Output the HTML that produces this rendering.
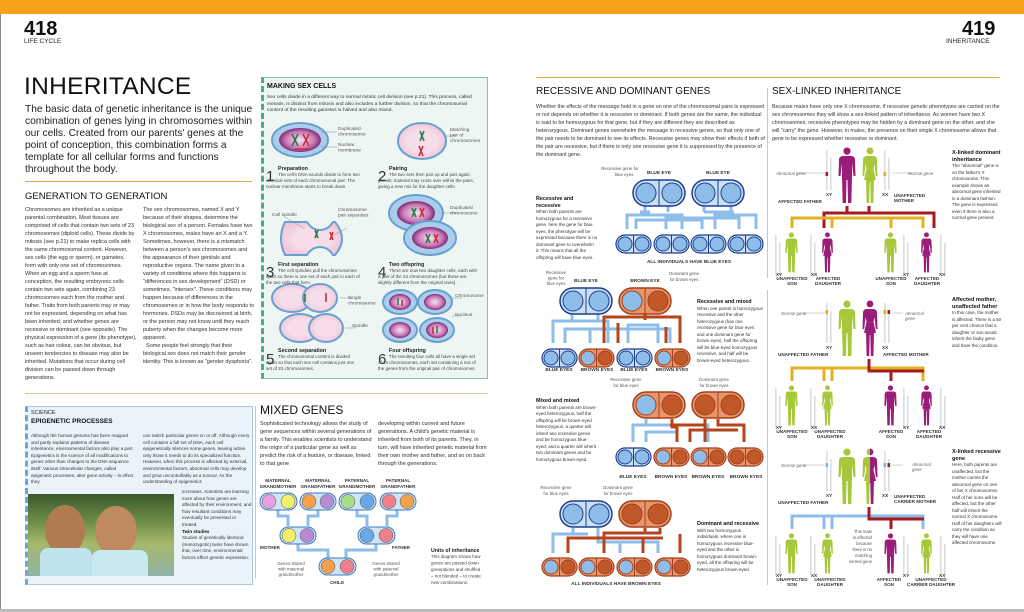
<!DOCTYPE html>
<html><head><meta charset="utf-8">
<style>
*{margin:0;padding:0;box-sizing:border-box}
body{width:1024px;height:612px;overflow:hidden;background:#fff;font-family:"Liberation Sans",sans-serif;color:#222;position:relative}
.a{position:absolute}
.t6{font-size:5.6px;line-height:8px;color:#333;letter-spacing:-0.05px}
.t5{font-size:4.9px;line-height:6.5px;color:#333}
.h{font-weight:bold;color:#111}
svg{position:absolute;left:0;top:0}
</style></head><body>
<div class="a" style="left:0;top:0;width:1024px;height:14px;background:#f6a31a"></div>
<div class="a" style="left:0;top:14px;width:1px;height:598px;background:#888"></div>
<div class="a" style="left:0;top:609px;width:1024px;height:3px;background:#bbb"></div>

<div class="a h" style="left:24px;top:19px;font-size:20px;line-height:20px">418</div>
<div class="a" style="left:24px;top:38px;font-size:6.5px">LIFE CYCLE</div>
<div class="a h" style="left:962px;top:19px;font-size:20px;line-height:20px">419</div>
<div class="a" style="left:946px;top:38px;font-size:6.5px">INHERITANCE</div>

<div class="a" style="left:24px;top:74px;font-size:24.5px;line-height:26px;letter-spacing:0.3px;color:#111">INHERITANCE</div>
<div class="a" style="left:25px;top:104px;width:240px;font-size:10.2px;line-height:12.1px;color:#222">The basic data of genetic inheritance is the unique combination of genes lying in chromosomes within our cells. Created from our parents' genes at the point of conception, this combination forms a template for all cellular forms and functions throughout the body.</div>
<div class="a" style="left:25px;top:181px;width:227px;height:1px;background:#d9a94a"></div>
<div class="a" style="left:25px;top:191px;font-size:9.5px;color:#111">GENERATION TO GENERATION</div>
<div class="a t6" style="left:25px;top:206px;width:112px">Chromosomes are inherited as a unique parental combination. Most tissues are comprised of cells that contain two sets of 23 chromosomes (diploid cells). These divide by mitosis (see p.21) to make replica cells with the same chromosomal content. However, sex cells (the egg or sperm), or gametes, form with only one set of chromosomes. When an egg and a sperm fuse at conception, the resulting embryonic cells contain two sets again, combining 23 chromosomes each from the mother and father. Traits from both parents may or may not be expressed, depending on what has been inherited, and whether genes are recessive or dominant (see opposite). The physical expression of a gene (its phenotype), such as hair colour, can be obvious, but unseen tendencies to disease may also be inherited. Mutations that occur during cell division can be passed down through generations.</div>
<div class="a t6" style="left:143px;top:206px;width:112px">The sex chromosomes, named X and Y because of their shapes, determine the biological sex of a person. Females have two X chromosomes, males have an X and a Y. Sometimes, however, there is a mismatch between a person's sex chromosomes and the appearance of their genitals and reproductive organs. The name given to a variety of conditions where this happens is "differences in sex development" (DSD) or sometimes, "intersex". These conditions may happen because of differences in the chromosomes or in how the body responds to hormones. DSDs may be discovered at birth, or the person may not know until they reach puberty when the changes become more apparent.<br>&nbsp;&nbsp;Some people feel strongly that their biological sex does not match their gender identity. This is known as "gender dysphoria".</div>

<div class="a" style="left:261px;top:77px;width:227px;height:302px;background:#eef6f4;border:1px solid #7cc3b2;border-left:3px dashed #3fae95"></div>
<div class="a h" style="left:267px;top:83px;font-size:7px">MAKING SEX CELLS</div>
<div class="a t5" style="left:267px;top:95px;width:215px">Sex cells divide in a different way to normal mitotic cell division (see p.21). This process, called meiosis, is distinct from mitosis and also includes a further division, so that the chromosomal content of the resulting gametes is halved and also mixed.</div>
<svg width="1024" height="612">
<defs>
<radialGradient id="nuc"><stop offset="0" stop-color="#f6e6f2"/><stop offset="0.7" stop-color="#c976b4"/><stop offset="1" stop-color="#7a2a78"/></radialGradient>
<radialGradient id="cyt"><stop offset="0.6" stop-color="#f6dde9"/><stop offset="1" stop-color="#f0c8dc"/></radialGradient>
</defs>
<g stroke="#6aa0cf" stroke-width="2">
<ellipse cx="300" cy="140" rx="28" ry="17" fill="#a9cdea"/>
<ellipse cx="300" cy="140" rx="21" ry="12" fill="url(#nuc)" stroke="none"/>
<ellipse cx="422" cy="141" rx="24" ry="18" fill="url(#cyt)"/>
<path d="M285,222 q-8,16 0,33 h22 q5,-8 13,-8 q8,0 13,8 h2 q14,-16 0,-33 h-2 q-5,8 -13,8 q-8,0 -13,-8z" fill="url(#cyt)"/>
<ellipse cx="416" cy="213" rx="27" ry="18" fill="#a9cdea"/><ellipse cx="416" cy="213" rx="19" ry="12" fill="url(#nuc)" stroke="none"/>
<ellipse cx="430" cy="238" rx="26" ry="17" fill="#a9cdea"/><ellipse cx="430" cy="238" rx="18" ry="11" fill="url(#nuc)" stroke="none"/>
<ellipse cx="292" cy="298" rx="20" ry="14" fill="url(#cyt)"/><ellipse cx="320" cy="298" rx="17" ry="14" fill="url(#cyt)"/>
<ellipse cx="300" cy="328" rx="20" ry="14" fill="url(#cyt)"/><ellipse cx="326" cy="328" rx="17" ry="14" fill="url(#cyt)"/>
<ellipse cx="400" cy="302" rx="17" ry="12" fill="#a9cdea"/><ellipse cx="400" cy="302" rx="11" ry="8" fill="url(#nuc)" stroke="none"/>
<ellipse cx="435" cy="302" rx="17" ry="12" fill="#a9cdea"/><ellipse cx="435" cy="302" rx="11" ry="8" fill="url(#nuc)" stroke="none"/>
<ellipse cx="400" cy="330" rx="17" ry="12" fill="#a9cdea"/><ellipse cx="400" cy="330" rx="11" ry="8" fill="url(#nuc)" stroke="none"/>
<ellipse cx="437" cy="330" rx="17" ry="12" fill="#a9cdea"/><ellipse cx="437" cy="330" rx="11" ry="8" fill="url(#nuc)" stroke="none"/>
</g>
<g stroke-width="1.6" fill="none">
<path d="M292,134 l6,12 M298,134 l-6,12 M420,131 l4,10 M424,131 l-4,10 M315,230 l3,8 M318,230 l-3,8 M412,208 l4,9 M416,208 l-4,9 M426,234 l4,9 M430,234 l-4,9 M305,294 v8 M398,298 v7 M437,326 v7" stroke="#2a7a4a"/>
<path d="M303,134 l6,12 M309,134 l-6,12 M419,146 l4,10 M423,146 l-4,10 M330,232 l3,8 M333,232 l-3,8 M420,208 l4,9 M424,208 l-4,9 M434,234 l4,9 M438,234 l-4,9 M326,293 v9 M402,300 v6 M433,327 v7 M295,149 h14" stroke="#c8303a"/>
</g>
<g stroke="#777" stroke-width="0.4"><path d="M321,132 h16 M321,147 h16 M444,136 h12 M347,228 l-15,8 M285,217 l20,12 M443,213 h14 M340,298 h12 M345,328 h10 M452,298 h10 M452,316 h8"/></g>
<g font-family="Liberation Sans" font-size="4.8" fill="#555">
<text x="338" y="130">Duplicated</text><text x="338" y="135.5">chromosome</text>
<text x="338" y="146">Nuclear</text><text x="338" y="151.5">membrane</text>
<text x="450" y="131">Matching</text><text x="450" y="136.5">pair of</text><text x="450" y="142">chromosomes</text>
<text x="272" y="216">Cell spindle</text><text x="338" y="211">Chromosome</text><text x="338" y="216.5">pair separates</text>
<text x="450" y="209">Duplicated</text><text x="450" y="214.5">chromosome</text>
<text x="348" y="299">Single</text><text x="348" y="304.5">chromosome</text><text x="352" y="327">Spindle</text>
<text x="455" y="297">Chromosome</text><text x="455" y="316">Nucleus</text>
</g>
<g font-family="Liberation Sans" fill="#333" font-size="15">
<text x="266" y="181">1</text><text x="378" y="181">2</text><text x="266" y="277">3</text><text x="378" y="277">4</text><text x="266" y="364">5</text><text x="378" y="364">6</text>
</g>
<g font-family="Liberation Sans" font-size="5.4" fill="#222" font-weight="bold">
<text x="278" y="170">Preparation</text><text x="389" y="170">Pairing</text><text x="278" y="266">First separation</text><text x="389" y="266">Two offspring</text><text x="278" y="352">Second separation</text><text x="389" y="352">Four offspring</text>
</g>
<g font-family="Liberation Sans" font-size="4.5" fill="#444">
<text x="278" y="176">The cell's DNA sounds divide to form two</text><text x="266" y="182">identical sets of each chromosomal pair. The</text><text x="266" y="188">nuclear membrane starts to break down.</text>
<text x="389" y="176">The two sets then pair up and part again;</text><text x="378" y="182">genetic material may cross over within the pairs,</text><text x="378" y="188">giving a new mix for the daughter cells.</text>
<text x="278" y="272">The cell spindles pull the chromosomes</text><text x="266" y="278">apart so there is one set of each pair in each of</text><text x="266" y="284">the two cells that form.</text>
<text x="389" y="272">There are now two daughter cells, each with</text><text x="378" y="278">a pair of the 23 chromosomes (but these are</text><text x="378" y="284">slightly different from the original ones).</text>
<text x="278" y="358">The chromosomal content is divided</text><text x="266" y="364">again so that each sex cell contains just one</text><text x="266" y="370">set of 23 chromosomes.</text>
<text x="389" y="358">The resulting four cells all have a single set</text><text x="378" y="364">of 23 chromosomes, each set containing a mix of</text><text x="378" y="370">the genes from the original pair of chromosomes.</text>
</g>
</svg>

<div class="a" style="left:25px;top:393px;width:463px;height:1px;background:#d8c98a"></div>
<div class="a" style="left:25px;top:406px;width:228px;height:179px;background:#eaf3fa;border:1px solid #a9c9e3;border-left:3px dashed #6aa6d6"></div>
<div class="a" style="left:31px;top:410px;font-size:5.5px">SCIENCE</div>
<div class="a h" style="left:31px;top:418px;font-size:6.5px">EPIGENETIC PROCESSES</div>
<div class="a" style="left:31px;top:433px;width:103px;font-size:4.6px;line-height:6.6px;color:#333">Although the human genome has been mapped and partly explains patterns of disease inheritance, environmental factors also play a part. Epigenetics is the science of all modifications to genes other than changes to the DNA sequence itself. Various intracellular changes, called epigenetic processes, alter gene activity – in effect they</div>
<div class="a" style="left:143px;top:433px;width:108px;font-size:4.6px;line-height:6.6px;color:#333">can switch particular genes on or off. Although every cell contains a full set of DNA, each cell epigenetically silences some genes, leaving active only those it needs to do its specialized function. However, when this process is affected by external, environmental factors, abnormal cells may develop and grow uncontrollably as a tumour. As the understanding of epigenetics</div>
<div class="a" style="left:182px;top:489px;width:70px;font-size:4.6px;line-height:6.6px;color:#333">increases, scientists are learning more about how genes are affected by their environment, and how resultant conditions may eventually be prevented or treated.<br><b style="color:#111">Twin studies</b><br>Studies of genetically identical (monozygotic) twins have shown that, over time, environmental factors affect genetic expression.</div>
<div class="a" style="left:28px;top:494px;width:146px;height:82px;background:linear-gradient(180deg,#3c5a2a 0%,#6f8f48 35%,#a6b86a 60%,#8fb3a8 100%)"></div>
<div class="a" style="left:45px;top:505px;width:40px;height:50px;border-radius:50%;background:#b07a52"></div>
<div class="a" style="left:95px;top:506px;width:42px;height:50px;border-radius:50%;background:#c08a60"></div>
<div class="a" style="left:40px;top:548px;width:52px;height:28px;background:#bfe3ea;border-radius:8px 8px 0 0"></div>
<div class="a" style="left:92px;top:550px;width:56px;height:26px;background:#c9e8ef;border-radius:8px 8px 0 0"></div>

<div class="a" style="left:255px;top:406px;width:1px;height:172px;background:#d8c98a"></div>
<div class="a" style="left:260px;top:403px;font-size:12px;color:#111">MIXED GENES</div>
<div class="a t6" style="left:260px;top:420px;width:112px">Sophisticated technology allows the study of gene sequences within several generations of a family. This enables scientists to understand the origin of a particular gene as well as predict the risk of a feature, or disease, linked to that gene</div>
<div class="a t6" style="left:378px;top:420px;width:112px">developing within current and future generations. A child's genetic material is inherited from both of its parents. They, in turn, will have inherited genetic material from their own mother and father, and so on back through the generations.</div>
<svg width="1024" height="612">
<g fill="none" stroke="#8dbde8" stroke-width="3">
<path d="M278,510 v6 h10 v10 M318,510 v6 h-10 v10 M357,510 v6 h10 v10 M397,510 v6 h-10 v10 M298,544 v6 h30 v8 M376,544 v6 h-30 v8"/>
</g>
<g stroke="#3a78c0" stroke-width="1" fill="#cfe4f5">
<rect x="260" y="493" width="37" height="17" rx="8.5"/><rect x="300" y="493" width="36" height="17" rx="8.5"/><rect x="339" y="493" width="37" height="17" rx="8.5"/><rect x="380" y="493" width="36" height="17" rx="8.5"/>
<rect x="280" y="527" width="36" height="17" rx="8.5"/><rect x="358" y="527" width="37" height="17" rx="8.5"/><rect x="319" y="558" width="37" height="17" rx="8.5"/>
</g>
<g stroke="#555" stroke-width="0.5">
<circle cx="269" cy="501.5" r="7" fill="#e9a0e3"/><circle cx="288" cy="501.5" r="7" fill="#f3ef6a"/>
<circle cx="309" cy="501.5" r="7" fill="#f5a04a"/><circle cx="327" cy="501.5" r="7" fill="#b58ad6"/>
<circle cx="348" cy="501.5" r="7" fill="#a8dd8a"/><circle cx="367" cy="501.5" r="7" fill="#6aa7e6"/>
<circle cx="389" cy="501.5" r="7" fill="#ef7f8a"/><circle cx="407" cy="501.5" r="7" fill="#f5a04a"/>
<circle cx="289" cy="535.5" r="7" fill="#f3ef6a"/><circle cx="307" cy="535.5" r="7" fill="#b58ad6"/>
<circle cx="367" cy="535.5" r="7" fill="#6aa7e6"/><circle cx="386" cy="535.5" r="7" fill="#ef7f8a"/>
<circle cx="328" cy="566.5" r="7" fill="#f5a04a"/><circle cx="347" cy="566.5" r="7" fill="#ef7f8a"/>
</g>
<g font-family="Liberation Sans" font-size="4.6" font-weight="bold" fill="#333" text-anchor="middle">
<text x="278" y="482">MATERNAL</text><text x="278" y="488">GRANDMOTHER</text><text x="318" y="482">MATERNAL</text><text x="318" y="488">GRANDFATHER</text>
<text x="357" y="482">PATERNAL</text><text x="357" y="488">GRANDMOTHER</text><text x="398" y="482">PATERNAL</text><text x="398" y="488">GRANDFATHER</text>
<text x="270" y="549">MOTHER</text><text x="401" y="549">FATHER</text><text x="337" y="584">CHILD</text>
</g>
<g font-family="Liberation Sans" font-size="4.4" fill="#555" text-anchor="middle">
<text x="291" y="565">Genes shared</text><text x="291" y="570.5">with maternal</text><text x="291" y="576">grandmother</text>
<text x="386" y="565">Genes shared</text><text x="386" y="570.5">with paternal</text><text x="386" y="576">grandmother</text>
</g>
<g font-family="Liberation Sans" font-size="4.5" fill="#444">
<text x="431" y="552" font-weight="bold" font-size="5.2" fill="#222">Units of inheritance</text>
<text x="431" y="558">This diagram shows how</text><text x="431" y="564.5">genes are passed down</text><text x="431" y="571">generations and shuffled</text><text x="431" y="577.5">– not blended – to create</text><text x="431" y="584">new combinations.</text>
</g>
</svg>

<div class="a" style="left:536px;top:77px;width:464px;height:1px;background:#d9a94a"></div>
<div class="a" style="left:767px;top:88px;width:1px;height:190px;background:#d8c98a"></div>
<div class="a" style="left:767px;top:290px;width:1px;height:295px;background:#d8c98a"></div>
<div class="a" style="left:536px;top:86px;font-size:10px;color:#111">RECESSIVE AND DOMINANT GENES</div>
<div class="a" style="left:772px;top:86px;font-size:10px;color:#111">SEX-LINKED INHERITANCE</div>
<div class="a" style="left:536px;top:103px;width:230px;font-size:5.3px;line-height:8px;color:#333">Whether the effects of the message held in a gene on one of the chromosomal pairs is expressed or not depends on whether it is recessive or dominant. If both genes are the same, the individual is said to be homozygous for that gene, but if they are different they are described as heterozygous. Dominant genes overwhelm the message in recessive genes, so that only one of the pair needs to be dominant to see its effects. Recessive genes may show their effects if both of the pair are recessive, but if there is only one recessive gene it is suppressed by the presence of the dominant gene.</div>
<div class="a" style="left:772px;top:103px;width:230px;font-size:5.3px;line-height:8px;color:#333">Because males have only one X chromosome, if recessive genetic phenotypes are carried on the sex chromosomes they will show a sex-linked pattern of inheritance. As women have two X chromosomes, recessive phenotypes may be hidden by a dominant gene on the other, and she will "carry" the gene. However, in males, the presence on their single X chromosome allows that gene to be expressed whether recessive or dominant.</div>

<div class="a t5" style="left:536px;top:196px;width:62px;font-size:4.5px"><b style="color:#111;font-size:5.4px">Recessive and recessive</b><br>When both parents are homozygous for a recessive gene, here the gene for blue eyes, the phenotype will be expressed because there is no dominant gene to overwhelm it. This means that all the offspring will have blue eyes.</div>
<div class="a t5" style="left:697px;top:299px;width:66px;font-size:4.5px"><b style="color:#111;font-size:5.4px">Recessive and mixed</b><br>When one parent is homozygous recessive and the other heterozygous (has one recessive gene for blue eyes and one dominant gene for brown eyes), half the offspring will be blue-eyed homozygous recessive, and half will be brown-eyed heterozygous.</div>
<div class="a t5" style="left:536px;top:398px;width:62px;font-size:4.5px"><b style="color:#111;font-size:5.4px">Mixed and mixed</b><br>When both parents are brown-eyed heterozygous, half the offspring will be brown-eyed heterozygous; a quarter will inherit two recessive genes and be homozygous blue-eyed; and a quarter will inherit two dominant genes and be homozygous brown-eyed.</div>
<div class="a t5" style="left:697px;top:521px;width:66px;font-size:4.5px"><b style="color:#111;font-size:5.4px">Dominant and recessive</b><br>With two homozygous individuals, where one is homozygous recessive blue-eyed and the other is homozygous dominant brown-eyed, all the offspring will be heterozygous brown-eyed.</div>

<svg width="1024" height="612">
<defs>
<g id="pB"><rect x="0" y="0" width="52" height="26" rx="13" fill="#c9e0f5" stroke="#1f3f8f" stroke-width="1.5"/><line x1="26" y1="0" x2="26" y2="26" stroke="#1f3f8f"/><circle cx="13" cy="13" r="10" fill="#8dbde8" stroke="#1f3f8f"/><circle cx="39" cy="13" r="10" fill="#8dbde8" stroke="#1f3f8f"/></g>
<g id="pM"><rect x="0" y="0" width="52" height="26" rx="13" fill="#e8956a" stroke="#a5401c" stroke-width="1.5"/><line x1="26" y1="0" x2="26" y2="26" stroke="#a5401c"/><circle cx="13" cy="13" r="10" fill="#8dbde8" stroke="#a5401c"/><circle cx="39" cy="13" r="10" fill="#c0582a" stroke="#a5401c"/></g>
<g id="pO"><rect x="0" y="0" width="52" height="26" rx="13" fill="#e8956a" stroke="#a5401c" stroke-width="1.5"/><line x1="26" y1="0" x2="26" y2="26" stroke="#a5401c"/><circle cx="13" cy="13" r="10" fill="#c0582a" stroke="#a5401c"/><circle cx="39" cy="13" r="10" fill="#c0582a" stroke="#a5401c"/></g>
<g id="cB"><rect x="0" y="0" width="35" height="18" rx="9" fill="#c9e0f5" stroke="#1f3f8f" stroke-width="1.2"/><line x1="17.5" y1="0" x2="17.5" y2="18" stroke="#1f3f8f"/><circle cx="9" cy="9" r="7" fill="#8dbde8" stroke="#1f3f8f"/><circle cx="26" cy="9" r="7" fill="#8dbde8" stroke="#1f3f8f"/></g>
<g id="cM"><rect x="0" y="0" width="35" height="18" rx="9" fill="#e8956a" stroke="#a5401c" stroke-width="1.2"/><line x1="17.5" y1="0" x2="17.5" y2="18" stroke="#a5401c"/><circle cx="9" cy="9" r="7" fill="#8dbde8" stroke="#a5401c"/><circle cx="26" cy="9" r="7" fill="#c0582a" stroke="#a5401c"/></g>
<g id="cO"><rect x="0" y="0" width="35" height="18" rx="9" fill="#e8956a" stroke="#a5401c" stroke-width="1.2"/><line x1="17.5" y1="0" x2="17.5" y2="18" stroke="#a5401c"/><circle cx="9" cy="9" r="7" fill="#c0582a" stroke="#a5401c"/><circle cx="26" cy="9" r="7" fill="#c0582a" stroke="#a5401c"/></g>
</defs>
<g fill="none" stroke="#8dbde8" stroke-width="3">
<path d="M645,206 v6 M668,206 v6 M704,206 v6 M731,206 v6 M627,229 v-14 h55 v14 M636,229 v-9 h66 v9 M666,229 v-11 h73 v11 M715,229 v-14 h41 v14 M650,212 h-10 M704,212 h30"/>
</g>
<use href="#pB" x="633" y="180"/><use href="#pB" x="692" y="180"/>
<use href="#cB" x="616" y="235"/><use href="#cB" x="654" y="235"/><use href="#cB" x="691" y="235"/><use href="#cB" x="728" y="235"/>
<g fill="none" stroke-width="3">
<path d="M572,314 v6 M598,314 v6 M553,343 v-22 h55 v22 M565,343 v-14 h105 v14 M590,343 v-14 M628,343 v-18 h30 v18" stroke="#8dbde8"/>
<path d="M645,314 v6 M604,343 v-26 h76 v26 M618,343 v-20 M645,320 v-3 M666,343 v-16" stroke="#b5441c"/>
</g>
<use href="#pB" x="560" y="288"/><use href="#pM" x="619" y="288"/>
<use href="#cB" x="542" y="349"/><use href="#cM" x="579" y="349"/><use href="#cB" x="617" y="349"/><use href="#cM" x="655" y="349"/>
<g fill="none" stroke-width="3">
<path d="M646,419 v6 M633,442 v-17 h75 v17 M646,442 v-10 h32" stroke="#8dbde8"/>
<path d="M672,419 v8 h5 v15 M705,419 v6 h-35 M718,419 v6 h26 v17 M690,442 v-12 h48 M705,425 v17" stroke="#b5441c"/>
</g>
<use href="#pM" x="633" y="392"/><use href="#pO" x="692" y="392"/>
<use href="#cB" x="616" y="448"/><use href="#cM" x="654" y="448"/><use href="#cM" x="691" y="448"/><use href="#cO" x="728" y="448"/>
<g fill="none" stroke-width="3">
<path d="M573,528 v6 M598,528 v6 M553,553 v-19 h35 M598,534 v8 h60 v11 M620,553 v-12" stroke="#8dbde8"/>
<path d="M645,528 v6 M660,528 v6 M568,553 v-15 h95 M604,553 v-20 h57 M643,553 v-14 M680,553 v-19" stroke="#b5441c"/>
</g>
<use href="#pB" x="560" y="501"/><use href="#pO" x="619" y="501"/>
<use href="#cM" x="542" y="558"/><use href="#cM" x="579" y="558"/><use href="#cM" x="617" y="558"/><use href="#cM" x="655" y="558"/>
<g font-family="Liberation Sans" font-size="4.8" font-weight="bold" fill="#333" text-anchor="middle">
<text x="659" y="174">BLUE EYE</text><text x="718" y="174">BLUE EYE</text>
<text x="689" y="263">ALL INDIVIDUALS HAVE BLUE EYES</text>
<text x="586" y="282">BLUE EYE</text><text x="645" y="282">BROWN EYE</text>
<text x="559" y="371">BLUE EYES</text><text x="597" y="371">BROWN EYES</text><text x="634" y="371">BLUE EYES</text><text x="672" y="371">BROWN EYES</text>
<text x="633" y="478">BLUE EYES</text><text x="671" y="478">BROWN EYES</text><text x="708" y="478">BROWN EYES</text><text x="746" y="478">BROWN EYES</text>
<text x="616" y="585">ALL INDIVIDUALS HAVE BROWN EYES</text>
</g>
<g font-family="Liberation Sans" font-size="4.4" fill="#555" text-anchor="middle">
<text x="620" y="170">Recessive gene for</text><text x="624" y="176">blue eyes</text>
<text x="556" y="274">Recessive</text><text x="556" y="279.5">gene for</text><text x="556" y="285">blue eyes</text>
<text x="684" y="275">Dominant gene</text><text x="684" y="281">for brown eyes</text>
<text x="626" y="381">Recessive gene</text><text x="626" y="387">for blue eyes</text>
<text x="714" y="381">Dominant gene</text><text x="714" y="387">for brown eyes</text>
<text x="556" y="489">Recessive gene</text><text x="556" y="495">for blue eyes</text>
<text x="618" y="489">Dominant gene</text><text x="618" y="495">for brown eyes</text>
</g>

<defs>
<path id="man" d="M9,0.5 a3.6,3.6 0 1 1 -0.01,0 z M5,9 L13,9 Q17,9 17,13 L17.5,29 L15.5,29 L14,16 L14,30 L13.3,56 L10,56 L9.5,33 L8.5,33 L8,56 L4.7,56 L4,30 L4,16 L2.5,29 L0.5,29 L1,13 Q1,9 5,9Z"/>
<path id="wom" d="M9,0.5 a3.4,3.4 0 1 1 -0.01,0 z M6,9 L12,9 Q16,9 16,13 L16.5,29 L14.8,29 L13.5,17 L12.5,22 L15,33 L13,33 L12.4,56 L9.8,56 L9.3,35 L8.7,35 L8.2,56 L5.6,56 L5,33 L3,33 L5.5,22 L4.5,17 L3.2,29 L1.5,29 L2,13 Q2,9 6,9Z"/>
<clipPath id="lh"><rect x="0" y="0" width="9" height="60"/></clipPath>
<clipPath id="rh"><rect x="9" y="0" width="10" height="60"/></clipPath>
<g id="bars"><rect x="0" y="0" width="1.6" height="40" fill="#ddd"/><rect x="4" y="8" width="1.6" height="32" fill="#ddd"/></g>
</defs>
<g font-family="Liberation Sans">
<g transform="translate(768,140)">
<use href="#man" x="70" y="7" fill="#9b1d7a"/><use href="#wom" x="93" y="7" fill="#a7c83a"/>
<use href="#bars" x="58" y="10"/><rect x="57.5" y="32" width="2.6" height="4" fill="#b0182a"/>
<use href="#bars" x="116" y="10"/><rect x="115.5" y="32" width="2.6" height="4" fill="#e0b020"/>
<path d="M28,33 h29 M125,33 h20" stroke="#888" stroke-width="0.4"/>
<g fill="none" stroke-width="3"><path d="M56,88 v-15 h110 v15" stroke="#a81a22"/><path d="M24,88 v-10 h131 v10 M64,88 v-10 M123,88 v-10" stroke="#e3b020"/><path d="M79,66 v7 M101,66 v7" stroke="#a81a22"/></g>
<use href="#man" transform="translate(17,92) scale(0.72)" fill="#a7c83a"/><use href="#wom" transform="translate(53,92) scale(0.72)" fill="#9b1d7a"/>
<use href="#man" transform="translate(116,92) scale(0.72)" fill="#a7c83a"/><use href="#wom" transform="translate(152,92) scale(0.72)" fill="#9b1d7a"/>
<use href="#bars" x="7" y="95"/><use href="#bars" x="42" y="95"/><use href="#bars" x="135" y="95"/><use href="#bars" x="172" y="95"/>
<g font-size="4.6" font-weight="bold" fill="#333"><text x="58" y="56">XY</text><text x="114" y="56">XX</text><text x="8" y="136">XY</text><text x="43" y="136">XX</text><text x="135" y="136">XY</text><text x="171" y="136">XX</text>
<text x="10" y="63">AFFECTED FATHER</text><text x="126" y="57">UNAFFECTED</text><text x="126" y="62">MOTHER</text>
<g text-anchor="middle"><text x="24" y="140">UNAFFECTED</text><text x="24" y="145">SON</text><text x="60" y="140">AFFECTED</text><text x="60" y="145">DAUGHTER</text><text x="123" y="140">UNAFFECTED</text><text x="123" y="145">SON</text><text x="159" y="140">AFFECTED</text><text x="159" y="145">DAUGHTER</text></g></g>
<g font-size="4.4" fill="#666" font-style="italic"><text x="8" y="35">Abnormal gene</text><text x="140" y="35">Normal gene</text></g>
</g>
<g transform="translate(768,293)">
<use href="#man" x="70" y="7" fill="#a7c83a"/><use href="#wom" x="93" y="7" fill="#9b1d7a"/>
<use href="#bars" x="58" y="10"/><rect x="57.5" y="17" width="2.6" height="4" fill="#e0b020"/>
<use href="#bars" x="116" y="10"/><rect x="115.5" y="17" width="2.6" height="4" fill="#e0b020"/><rect x="119.5" y="17" width="2.6" height="4" fill="#b0182a"/>
<path d="M34,20 h22 M125,20 h10" stroke="#888" stroke-width="0.4"/>
<g fill="none" stroke-width="3"><path d="M24,88 v-13 h131 v13 M56,88 v-13 M64,88 v-13" stroke="#e3b020"/><path d="M101,66 v12 h55 M123,88 v-10" stroke="#a81a22"/></g>
<use href="#man" transform="translate(17,92) scale(0.72)" fill="#a7c83a"/><use href="#wom" transform="translate(53,92) scale(0.72)" fill="#a7c83a"/>
<use href="#man" transform="translate(116,92) scale(0.72)" fill="#9b1d7a"/><use href="#wom" transform="translate(152,92) scale(0.72)" fill="#9b1d7a"/>
<use href="#bars" x="7" y="95"/><use href="#bars" x="42" y="95"/><use href="#bars" x="135" y="95"/><use href="#bars" x="172" y="95"/>
<g font-size="4.6" font-weight="bold" fill="#333"><text x="58" y="56">XY</text><text x="114" y="56">XX</text><text x="8" y="136">XY</text><text x="43" y="136">XX</text><text x="135" y="136">XY</text><text x="171" y="136">XX</text>
<text x="10" y="63">UNAFFECTED FATHER</text><text x="115" y="63">AFFECTED MOTHER</text>
<g text-anchor="middle"><text x="24" y="140">UNAFFECTED</text><text x="24" y="145">SON</text><text x="62" y="140">UNAFFECTED</text><text x="62" y="145">DAUGHTER</text><text x="123" y="140">AFFECTED</text><text x="123" y="145">SON</text><text x="161" y="140">AFFECTED</text><text x="161" y="145">DAUGHTER</text></g></g>
<g font-size="4.4" fill="#666" font-style="italic"><text x="13" y="22">Normal gene</text><text x="137" y="22">Abnormal</text><text x="137" y="27">gene</text></g>
</g>
<g transform="translate(768,441)">
<use href="#man" x="70" y="7" fill="#a7c83a"/><use href="#wom" x="93" y="7" fill="#a7c83a" clip-path="url(#lh)"/><use href="#wom" x="93" y="7" fill="#9b1d7a"  clip-path="url(#rh)"/>
<use href="#bars" x="58" y="10"/><rect x="57.5" y="22" width="2.6" height="4" fill="#7ab8e8"/>
<use href="#bars" x="116" y="10"/><rect x="115.5" y="22" width="2.6" height="4" fill="#7ab8e8"/><rect x="119.5" y="22" width="2.6" height="4" fill="#b0182a"/>
<path d="M34,24 h22 M125,24 h10" stroke="#888" stroke-width="0.4"/>
<g fill="none" stroke-width="3"><path d="M24,88 v-13 h131 v13 M56,88 v-13 M64,88 v-13" stroke="#8dbde8"/><path d="M101,66 v12 h55 M123,88 v-10" stroke="#a81a22"/></g>
<use href="#man" transform="translate(17,92) scale(0.72)" fill="#a7c83a"/><use href="#wom" transform="translate(53,92) scale(0.72)" fill="#a7c83a"/>
<use href="#man" transform="translate(116,92) scale(0.72)" fill="#9b1d7a"/><use href="#wom" transform="translate(152,92) scale(0.72)" fill="#a7c83a"/>
<use href="#bars" x="7" y="95"/><use href="#bars" x="42" y="95"/><use href="#bars" x="135" y="95"/><use href="#bars" x="172" y="95"/>
<g font-size="4.6" font-weight="bold" fill="#333"><text x="58" y="56">XY</text><text x="114" y="56">XX</text><text x="8" y="136">XY</text><text x="43" y="136">XX</text><text x="135" y="136">XY</text><text x="171" y="136">XX</text>
<text x="10" y="63">UNAFFECTED FATHER</text><text x="126" y="57">UNAFFECTED</text><text x="126" y="62">CARRIER MOTHER</text>
<g text-anchor="middle"><text x="24" y="140">UNAFFECTED</text><text x="24" y="145">SON</text><text x="62" y="140">UNAFFECTED</text><text x="62" y="145">DAUGHTER</text><text x="121" y="140">AFFECTED</text><text x="121" y="145">SON</text><text x="163" y="140">UNAFFECTED</text><text x="163" y="145">CARRIER DAUGHTER</text></g></g>
<g font-size="4.4" fill="#666" font-style="italic"><text x="13" y="26">Normal gene</text><text x="144" y="25">Abnormal</text><text x="144" y="30">gene</text></g>
<g font-size="4.2" fill="#555" text-anchor="end"><text x="104" y="92">This male</text><text x="104" y="98">is affected</text><text x="104" y="104">because</text><text x="104" y="110">there is no</text><text x="104" y="116">matching</text><text x="104" y="122">normal gene</text></g>
</g>
</g>
</svg>
<div class="a t5" style="left:952px;top:150px;width:50px;font-size:4.5px"><b style="color:#111;font-size:5.6px;line-height:6.5px">X-linked dominant inheritance</b><br>The "abnormal" gene is on the father's X chromosome. This example shows an abnormal gene inherited in a dominant fashion. The gene is expressed even if there is also a normal gene present.</div>
<div class="a t5" style="left:952px;top:297px;width:50px;font-size:4.5px"><b style="color:#111;font-size:5.6px;line-height:6.5px">Affected mother, unaffected father</b><br>In this case, the mother is affected. There is a 50 per cent chance that a daughter or son would inherit the faulty gene and have the condition.</div>
<div class="a t5" style="left:952px;top:449px;width:50px;font-size:4.5px"><b style="color:#111;font-size:5.6px;line-height:6.5px">X-linked recessive gene</b><br>Here, both parents are unaffected, but the mother carries the abnormal gene on one of her X chromosomes. Half of her sons will be affected, but the other half will inherit the normal X chromosome. Half of her daughters will carry the condition as they will have one affected chromosome.</div>
</body></html>
